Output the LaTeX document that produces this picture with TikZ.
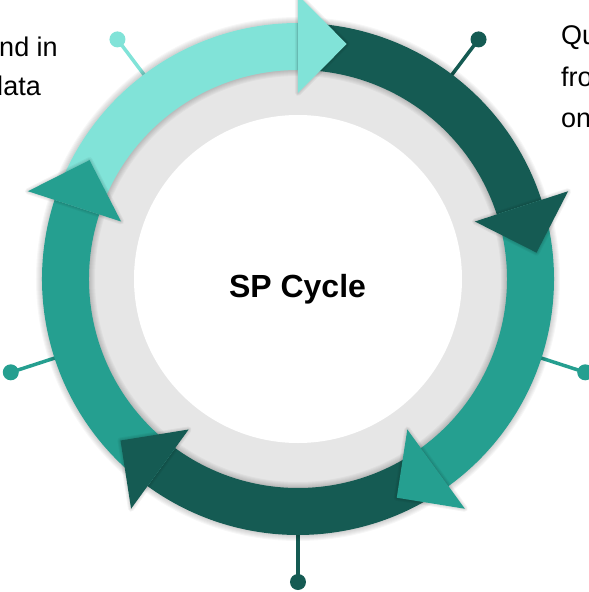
\documentclass[tikz,border=0pt]{standalone}
\usepackage{fontspec}
\setmainfont{Liberation Sans}
\definecolor{cLight}{HTML}{81E3D8}
\definecolor{cDark}{HTML}{155B53}
\definecolor{cMid}{HTML}{259F90}
\definecolor{cGray}{HTML}{E6E6E6}
\newcommand\bandsector[3]{%
  \fill[#1] (#2:209pt) arc[start angle=#2, end angle=#3, radius=209pt]
    -- (#3:256pt) arc[start angle=#3, end angle=#2, radius=256pt] -- cycle;}
\newcommand\arrowhd[2]{%
  \foreach \w in {2,4,6}{\draw[black, opacity=0.045, line width=\w pt, line join=round]
    (#2:186pt) -- (#2:284pt) -- ({#2-11.7}:240pt) -- cycle;}
  \fill[#1] (#2:186pt) -- (#2:284pt) -- ({#2-11.7}:240pt) -- cycle;}
\begin{document}
\begin{tikzpicture}[x=1pt,y=1pt,
  pinline/.style={line width=3.5pt},
  pindot/.style={circle, inner sep=0pt, minimum size=16pt},
  txt/.style={font=\fontsize{27pt}{31pt}\selectfont, inner sep=0pt},
  title/.style={font=\fontsize{32pt}{36pt}\selectfont\bfseries, inner sep=0pt}]
\useasboundingbox (-298,-313) rectangle (291,279);
\clip (-298,-313) rectangle (291,279);
% ring background
\fill[cGray] (0,0) circle (215pt);
\fill[white] (0,0) circle (164pt);
% pins
\foreach \a/\r/\c/\i in {127/300/cLight/1, 53/300/cDark/2, -18/302/cMid/3, -90/303/cDark/4, -162/302/cMid/5}{
  \coordinate (e\i) at (\a:250pt);
  \node[pindot, fill=\c] (p\i) at (\a:\r pt) {};
  \draw[pinline, \c] (e\i) -- (p\i.center);
}
% ring shadow
\foreach \k in {1,...,6}{
  \draw[black, opacity=0.03, line width={47pt+2pt*\k}] (0,0) circle (232.5pt);
}
% arrow bodies
\bandsector{cLight}{162}{90}
\bandsector{cDark}{90}{18}
\bandsector{cMid}{18}{-54}
\bandsector{cDark}{-54}{-126}
\bandsector{cMid}{234}{162}
% arrow heads
\arrowhd{cLight}{90}
\arrowhd{cDark}{18}
\arrowhd{cMid}{-54}
\arrowhd{cDark}{-126}
\arrowhd{cMid}{162}
% texts
\node[title, anchor=base] (ttl) at (-0.5,-18) {SP Cycle};
\node[txt, anchor=base east] (l1) at (-240,222) {found in};
\node[txt, anchor=base east] (l2) at (-257,183) {data};
\node[txt, anchor=base west] (r1) at (263,234) {Queries};
\node[txt, anchor=base west] (r2) at (263,192) {from};
\node[txt, anchor=base west] (r3) at (263,151) {on};
\end{tikzpicture}
\end{document}
